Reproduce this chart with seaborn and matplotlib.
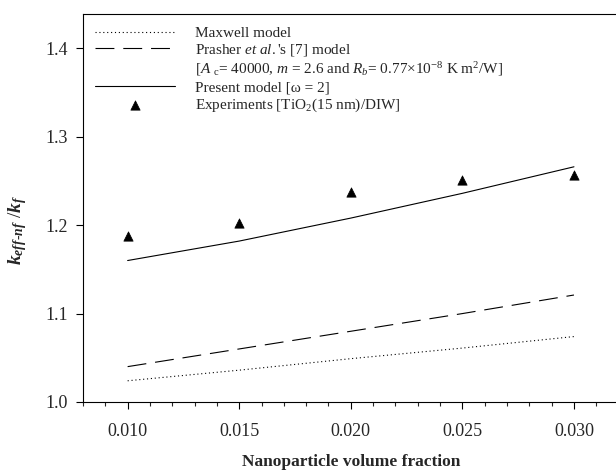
import numpy as np
import pandas as pd
import matplotlib
matplotlib.use("Agg")
import matplotlib.pyplot as plt
from matplotlib.lines import Line2D
from matplotlib.ticker import MultipleLocator
import seaborn as sns

# ---------------------------------------------------------------
# Data
# ---------------------------------------------------------------
phi = [0.010, 0.015, 0.020, 0.025, 0.030]
maxwell = [1.024, 1.036, 1.049, 1.061, 1.074]
prasher = [1.040, 1.060, 1.080, 1.100, 1.121]
present = [1.160, 1.182, 1.208, 1.236, 1.266]
experiments = [1.188, 1.203, 1.238, 1.251, 1.257]

labels = [
    "Maxwell model",
    r"Prasher $\mathit{et\ al.}$'s [7] model",
    r"[$A$ $_{\mathrm{c}}$= 40000, $m$ = 2.6 and $R_b$= 0.77×10$^{-8}$ K m$^2$/W]",
    "Present model [ω = 2]",
    r"Experiments [TiO$_2$(15 nm)/DIW]",
]

df = pd.DataFrame({"phi": phi, "maxwell": maxwell, "prasher": prasher,
                   "present": present, "exp": experiments})

# ---------------------------------------------------------------
# Style
# ---------------------------------------------------------------
sns.set_style("ticks")
plt.rcParams["font.family"] = ["Liberation Serif", "DejaVu Serif"]
plt.rcParams["mathtext.fontset"] = "custom"
plt.rcParams["mathtext.rm"] = "Liberation Serif"
plt.rcParams["mathtext.it"] = "Liberation Serif:italic"
plt.rcParams["mathtext.bf"] = "Liberation Serif:bold"
plt.rcParams["mathtext.bfit"] = "Liberation Serif:bold:italic"

fig = plt.figure(figsize=(6.16, 4.70), dpi=100)
# x-axis runs 0.008..0.032; the right end sits just past the picture edge
ax = fig.add_axes([83 / 616, 1 - 402 / 470, (618.6 - 83) / 616, (402 - 14) / 470])

lw = 0.8
sns.lineplot(data=df, x="phi", y="maxwell", ax=ax, color="black", lw=lw,
             linestyle=(0, (1, 2.5)), label=labels[0])
sns.lineplot(data=df, x="phi", y="prasher", ax=ax, color="black", lw=lw,
             linestyle=(0, (17, 8)), label=labels[1])
sns.lineplot(data=df, x="phi", y="present", ax=ax, color="black", lw=lw,
             label=labels[3])
sns.scatterplot(data=df, x="phi", y="exp", ax=ax, color="black", marker="^",
                s=45, edgecolor="black", linewidth=0.5, label=labels[4], zorder=3)

ax.set_xlim(0.008, 0.032)
ax.set_ylim(1.0, 1.4388)
ax.xaxis.set_minor_locator(MultipleLocator(0.001))
ax.set_xticks([0.010, 0.015, 0.020, 0.025, 0.030])
ax.set_xticklabels(["0.010", "0.015", "0.020", "0.025", "0.030"])
ax.set_yticks([1.0, 1.1, 1.2, 1.3, 1.4])
ax.set_yticklabels(["1.0", "1.1", "1.2", "1.3", "1.4"])
ax.tick_params(axis="both", which="major", direction="out", length=5, width=0.8,
               labelsize=13, color="black")
ax.tick_params(axis="x", which="major", pad=10)
ax.tick_params(axis="y", which="major", pad=6)
ax.tick_params(axis="x", which="minor", direction="out", length=3, width=0.8)
for sp in ax.spines.values():
    sp.set_linewidth(0.8)
    sp.set_color("black")

ax.set_xlabel("Nanoparticle volume fraction", fontsize=12.5, fontweight="bold")
ax.xaxis.set_label_coords(0.5, -0.135)
ax.set_ylabel(r"$\mathbfit{k}_{\mathbfit{eff\text{-}nf}}$ /$\mathbfit{k}_{\mathbfit{f}}$",
              fontsize=14)
ax.yaxis.set_label_coords(-0.1, 0.443)

# legend: the parameter line has no handle of its own
handles, labs = ax.get_legend_handles_labels()
blank = Line2D([], [], color="none")
handles = [handles[0], handles[1], blank, handles[2], handles[3]]
leg = ax.legend(handles, labels, loc="upper left", frameon=False, fontsize=11,
                handlelength=5.2, handletextpad=1.3, labelspacing=0.15,
                borderaxespad=0.5, borderpad=0.3)

fig.savefig("out.png", dpi=100)
